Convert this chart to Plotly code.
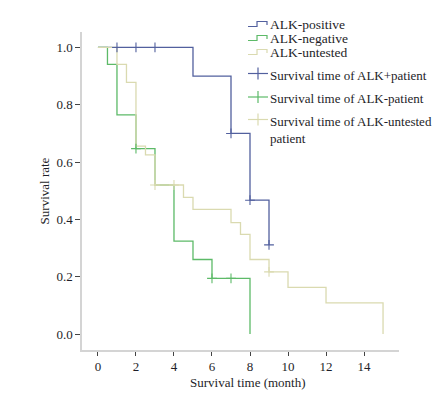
import plotly.graph_objects as go

# ---- data ----
pos_t = [0, 5, 7, 8, 9]
pos_s = [1.0, 0.9, 0.7, 0.467, 0.311]
pos_cens_t = [1, 2, 3, 7, 8, 9]
pos_cens_s = [1.0, 1.0, 1.0, 0.7, 0.467, 0.311]

neg_t = [0, 0.5, 1, 2, 3, 4, 5, 6, 8]
neg_s = [1.0, 0.941, 0.765, 0.647, 0.52, 0.324, 0.26, 0.194, 0.0]
neg_cens_t = [2, 6, 7]
neg_cens_s = [0.647, 0.194, 0.194]

unt_t = [0, 1, 1.5, 2, 2.5, 3, 4.5, 5, 7, 7.5, 8, 9, 10, 12, 15]
unt_s = [1.0, 0.941, 0.878, 0.656, 0.625, 0.52, 0.477, 0.435, 0.389, 0.348, 0.26, 0.217, 0.163, 0.109, 0.0]
unt_cens_t = [3, 4, 9]
unt_cens_s = [0.52, 0.52, 0.217]

x_ticks = [0, 2, 4, 6, 8, 10, 12, 14]
y_ticks = [0.0, 0.2, 0.4, 0.6, 0.8, 1.0]

step_names = ["ALK-positive", "ALK-negative", "ALK-untested"]
cens_names = ["Survival time of ALK+patient", "Survival time of ALK-patient",
              "Survival time of ALK-untested<br>patient"]
x_title = "Survival time (month)"
y_title = "Survival rate"

BLUE = "#52609e"
GREEN = "#5dba68"
KHAKI = "#dadab0"
colors = [BLUE, GREEN, KHAKI]
FONT = "Liberation Serif, Times New Roman, serif"
TXT = "#1e1e28"

# page body has an 8px margin, so the figure is sized to fit the 448x393 window
W, H = 440, 385
ML, MR, MT, MB = 74, 49, 24, 43
OFF = 8

fig = go.Figure()
for t, s, c in [(pos_t, pos_s, BLUE), (neg_t, neg_s, GREEN), (unt_t, unt_s, KHAKI)]:
    fig.add_trace(go.Scatter(x=t, y=s, mode="lines", line=dict(shape="hv", color=c, width=1.3),
                             showlegend=False, hoverinfo="skip"))
for t, s, c in [(pos_cens_t, pos_cens_s, BLUE), (neg_cens_t, neg_cens_s, GREEN),
                (unt_cens_t, unt_cens_s, KHAKI)]:
    fig.add_trace(go.Scatter(x=t, y=s, mode="markers",
                             marker=dict(symbol="cross-thin", size=7, line=dict(color=c, width=1.1)),
                             showlegend=False, hoverinfo="skip"))

# ---- manual legend (page pixel -> paper conversion) ----
pw, ph = W - ML - MR, H - MT - MB
def px(x):
    return (x - OFF - ML) / pw
def py(y):
    return (H - MB - (y - OFF)) / ph

shapes = []
annots = []
step_rows = [24, 38, 52]
for name, c, yy in zip(step_names, colors, step_rows):
    path = "M {:.4f} {:.4f} L {:.4f} {:.4f} L {:.4f} {:.4f} L {:.4f} {:.4f} L {:.4f} {:.4f}".format(
        px(248), py(yy + 2.5), px(257), py(yy + 2.5), px(257), py(yy - 2.5), px(267), py(yy - 2.5), px(267), py(yy + 1))
    shapes.append(dict(type="path", xref="paper", yref="paper", path=path,
                       line=dict(color=c, width=1.2)))
    annots.append(dict(x=px(268), y=py(yy), xref="paper", yref="paper", text=name,
                       showarrow=False, xanchor="left", yanchor="middle",
                       font=dict(family=FONT, size=13.5, color=TXT)))
cens_rows = [73.5, 97, 119.5]
for name, c, yy in zip(cens_names, colors, cens_rows):
    shapes.append(dict(type="line", xref="paper", yref="paper", x0=px(248), x1=px(268),
                       y0=py(yy), y1=py(yy), line=dict(color=c, width=1.2)))
    shapes.append(dict(type="line", xref="paper", yref="paper", x0=px(258), x1=px(258),
                       y0=py(yy - 6), y1=py(yy + 6), line=dict(color=c, width=1.2)))
    annots.append(dict(x=px(268), y=py(yy - 8), xref="paper", yref="paper", text=name,
                       showarrow=False, xanchor="left", yanchor="top", align="left",
                       font=dict(family=FONT, size=13, color=TXT)))

# x-axis title (slightly right of the plot centre, as in the reference)
annots.append(dict(x=px(248), y=py(382), xref="paper", yref="paper", text=x_title,
                   showarrow=False, xanchor="center", yanchor="middle",
                   font=dict(family=FONT, size=13, color=TXT)))

fig.update_layout(
    width=W, height=H,
    margin=dict(l=ML, r=MR, t=MT, b=MB, pad=0, autoexpand=False),
    paper_bgcolor="white", plot_bgcolor="white",
    showlegend=False,
    shapes=shapes, annotations=annots,
    font=dict(family=FONT, size=13, color=TXT),
    xaxis=dict(range=[-0.84, 15.84], tickvals=x_ticks, ticktext=[str(v) for v in x_ticks],
               showgrid=False, zeroline=False, showline=True, linecolor="#d4d4d4", linewidth=1.5,
               ticks="outside", ticklen=4, tickcolor="#444", tickwidth=1, automargin=False,
               tickfont=dict(family=FONT, size=13, color=TXT)),
    yaxis=dict(range=[-0.0558, 1.054], tickvals=y_ticks, ticktext=["{:.1f}".format(v) for v in y_ticks],
               showgrid=False, zeroline=False, showline=True, linecolor="#d4d4d4", linewidth=1.5,
               ticks="outside", ticklen=5, tickcolor="#444", tickwidth=1, automargin=False,
               tickfont=dict(family=FONT, size=13, color=TXT),
               title=dict(text=y_title, font=dict(family=FONT, size=13, color=TXT), standoff=4)),
)

fig.write_html("out.html")
